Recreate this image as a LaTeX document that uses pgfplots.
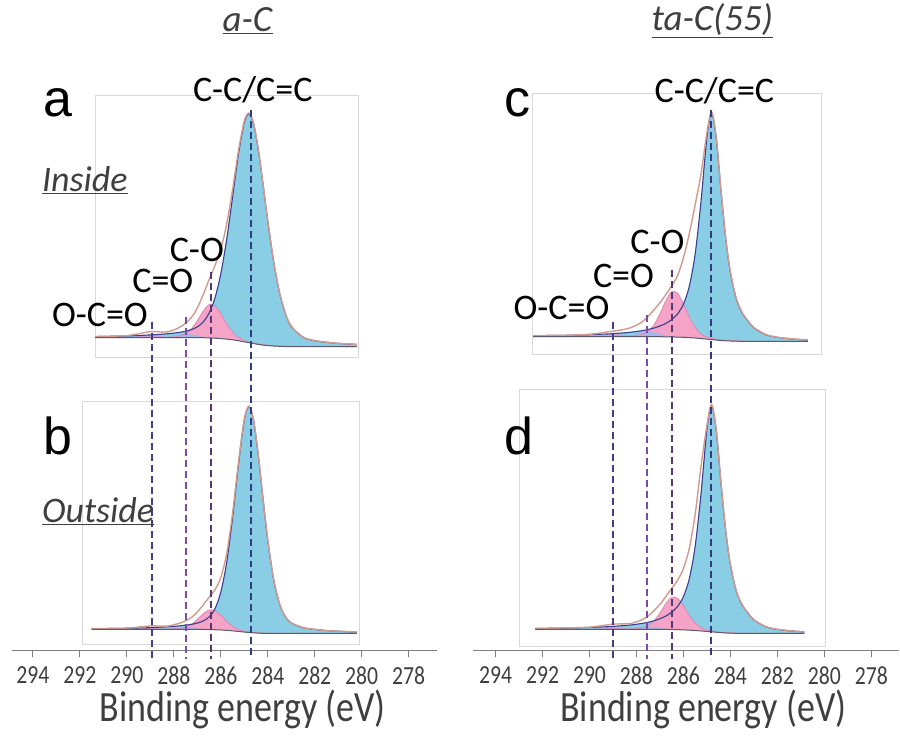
\documentclass[border=0pt]{standalone}
\usepackage{graphicx}
\usepackage{pgfplots}
\pgfplotsset{compat=1.18}
\usepackage{pgfplotstable}
\usepgfplotslibrary{fillbetween}
\usepackage{fontspec}
\setmainfont{Carlito}
\newfontfamily\arialf{Liberation Sans}

\definecolor{ccfill}{HTML}{8ACEE6}
\definecolor{ccline}{HTML}{3B3F8C}
\definecolor{cofill}{HTML}{F5A3C7}
\definecolor{coline}{HTML}{E088B0}
\definecolor{ceofill}{HTML}{A9B4E8}
\definecolor{ocofill}{HTML}{C8A2D8}
\definecolor{envline}{HTML}{D09A8E}
\definecolor{bgline}{HTML}{5A5A6E}
\definecolor{framegray}{HTML}{D9D9D9}
\definecolor{axisgray}{HTML}{7F7F7F}
\definecolor{txtgray}{HTML}{3F3F3F}
\definecolor{dA}{RGB}{70,60,140}
\definecolor{dB}{RGB}{125,75,165}
\definecolor{dC}{RGB}{85,55,115}
\definecolor{dD}{RGB}{50,60,130}

\newcommand{\tl}[1]{\scalebox{1}[1.2]{#1}}
\newcommand{\tickfont}{\fontsize{21.7}{26}\selectfont}
\newcommand{\labfont}{\fontsize{36}{43}\selectfont}
\newcommand{\titfont}{\fontsize{37}{44}\selectfont}
\newcommand{\letfont}{\arialf\fontsize{52}{62}\selectfont}

% panel a: a-C inside
\pgfplotstableread{
E bg cc co ceo oco env
291.35 20 21.1 20.1 20 20 21.2
290.5 20 21.5 20.1 20 20 21.6
290.0 20 21.8 20.1 20 20.2 22.1
289.5 20 22.2 20.2 20 21.5 23.9
289.25 20 22.5 20.2 20 22.5 25.2
289.0 20 22.8 20.3 20 23.0 26.0
288.75 20 23.1 20.3 20.1 22.5 26.0
288.5 20 23.5 20.4 20.3 21.5 25.6
288.25 20 24.0 20.5 20.8 20.6 26.0
288.0 20 24.6 20.8 22.0 20.2 27.7
287.75 20 25.4 21.7 23.4 20 30.5
287.5 20 26.5 24.0 24.0 20 34.5
287.25 20 28.1 28.9 23.4 20 40.4
287.0 20 30.8 37.0 22.0 20 49.8
286.75 20 35.7 46.6 20.8 20 63.1
286.5 19.8 44.5 53.1 20.1 19.8 78.0
286.25 19.5 59.7 52.0 19.6 19.5 92.2
286.0 19.1 84.0 43.9 19.1 19.1 108.8
285.75 18.6 118.4 33.8 18.6 18.6 133.6
285.5 17.9 160.5 25.6 17.9 17.9 168.2
285.25 17.0 203.5 20.4 17.0 17.0 206.9
285.0 15.9 235.5 17.4 15.9 15.9 237.0
284.8 15.0 244.0 15.8 15.0 15.0 244.8
284.6 14.1 233.7 14.7 14.1 14.1 234.3
284.4 13.3 207.7 13.7 13.3 13.3 208.1
284.2 12.6 173.2 12.9 12.6 12.6 173.5
284.0 12.1 136.9 12.4 12.1 12.1 137.2
283.75 11.7 96.3 11.9 11.7 11.7 96.5
283.5 11.4 65.2 11.6 11.4 11.4 65.4
283.25 11.2 44.2 11.4 11.2 11.2 44.4
283.0 11.0 31.4 11.2 11.0 11.0 31.6
282.5 11.0 20.5 11.1 11.0 11.0 20.6
282.0 11.0 17.0 11.1 11.0 11.0 17.1
281.5 11.0 15.4 11.1 11.0 11.0 15.5
281.0 11.0 14.3 11.1 11.0 11.0 14.4
280.2 11.0 13.3 11.0 11.0 11.0 13.3
}\panelA

% panel b: a-C outside
\pgfplotstableread{
E bg cc co ceo oco env
291.5 15 15.7 15.1 15 15 15.8
290.5 15 16.0 15.1 15 15 16.1
290.0 15 16.2 15.1 15 15.1 16.3
289.5 15 16.5 15.1 15 15.8 17.4
289.25 15 16.6 15.1 15 16.3 18.0
289.0 15 16.8 15.2 15 16.5 18.5
288.75 15 17.1 15.2 15 16.3 18.5
288.5 15 17.4 15.2 15.1 15.8 18.3
288.25 15 17.7 15.3 15.4 15.3 18.4
288.0 15 18.1 15.5 16.0 15.1 19.7
287.75 15 18.6 16.0 16.7 15 21.3
287.5 15 19.3 17.3 17.0 15 23.6
287.25 15 20.1 20.2 16.7 15 27.0
287.0 15 21.4 25.0 16.0 15 32.4
286.75 15 23.5 30.7 15.4 15 39.6
286.5 14.9 27.4 34.5 15.0 14.9 47.1
286.25 14.7 35.6 33.8 14.7 14.7 54.7
286.0 14.5 52.4 29.1 14.5 14.5 67.0
285.75 14.1 82.1 23.0 14.1 14.1 91.0
285.5 13.6 126.6 18.1 13.6 13.6 131.1
285.25 13.0 179.8 15.0 13.0 13.0 181.8
285.0 12.4 224.6 13.3 12.4 12.4 225.5
284.8 12.0 238.0 12.5 12.0 12.0 238.5
284.6 11.6 223.8 11.9 11.6 11.6 224.1
284.4 11.3 188.6 11.6 11.3 11.3 188.9
284.2 11.1 145.3 11.3 11.1 11.1 145.5
284.0 11.0 104.4 11.2 11.0 11.0 104.6
283.75 11 65.1 11.1 11 11 65.2
283.5 11 40.7 11.1 11 11 40.8
283.25 11 27.8 11.1 11 11 27.9
283.0 11 21.5 11.1 11 11 21.6
282.5 11 16.8 11.1 11 11 16.9
282.0 11 15.0 11.1 11 11 15.1
281.5 11 13.9 11.0 11 11 13.9
281.0 11 13.2 11.0 11 11 13.2
280.2 11 12.5 11.0 11 11 12.5
}\panelB

% panel c: ta-C(55) inside
\pgfplotstableread{
E bg cc co ceo oco env
292.4 18 19.0 18.1 18 18 19.1
291.0 18 19.4 18.1 18 18 19.5
290.5 18 19.7 18.2 18 18 19.8
290.0 18 20.0 18.2 18 18.2 20.4
289.5 18 20.5 18.2 18 19.5 21.8
289.25 18 20.7 18.3 18 20.5 22.8
289.0 18 21.1 18.3 18 21.0 23.5
288.75 18 21.5 18.4 18.1 20.5 24.3
288.5 18 21.9 18.5 18.4 19.5 25.4
288.25 18 22.5 18.7 19.3 18.6 27.0
288.0 18 23.2 19.1 21.0 18.2 29.5
287.75 18 24.1 20.3 23.0 18 33.0
287.5 18 25.2 23.4 24.0 18 38.5
287.25 18 26.7 30.0 23.0 18 45.0
287.0 18 28.7 41.0 21.0 18 52.0
286.75 17.9 31.3 53.9 19.2 17.9 60.0
286.5 17.8 35.1 62.9 18.2 17.8 69.0
286.25 17.6 40.8 61.5 17.7 17.6 79.0
286.0 17.4 50.6 50.9 17.4 17.4 97.0
285.75 17.1 68.4 37.6 17.1 17.1 121.0
285.5 16.7 100.8 27.1 16.7 16.7 150.0
285.25 16.2 153.5 20.8 16.2 16.2 181.0
285.0 15.6 217.4 17.6 15.6 15.6 222.0
284.8 15.1 242.1 16.2 15.1 15.1 243.0
284.6 14.6 216.4 15.4 14.6 14.6 217.2
284.4 14.2 164.4 14.8 14.2 14.2 165.0
284.2 13.9 116.7 14.4 13.9 13.9 117.2
284.0 13.7 82.4 14.1 13.7 13.7 82.8
283.75 13.5 56.2 13.8 13.5 13.5 56.5
283.5 13.3 41.8 13.6 13.3 13.3 42.1
283.25 13.3 33.8 13.5 13.3 13.3 34.0
283.0 13.3 26.9 13.5 13.3 13.3 27.1
282.5 13.3 20.1 13.5 13.3 13.3 20.3
282.0 13.3 17.4 13.4 13.3 13.3 17.5
281.5 13.3 16.0 13.4 13.3 13.3 16.1
281.0 13.3 15.1 13.4 13.3 13.3 15.2
280.7 13.3 14.7 13.4 13.3 13.3 14.8
}\panelC

% panel d: ta-C(55) outside
\pgfplotstableread{
E bg cc co ceo oco env
292.3 17 18.0 17.1 17 17 18.1
291.0 17 18.4 17.1 17 17 18.5
290.5 17 18.7 17.1 17 17 18.8
290.0 17 19.0 17.1 17 17.1 19.3
289.5 17 19.5 17.2 17 18.0 20.7
289.25 17 19.7 17.2 17 18.7 21.6
289.0 17 20.1 17.3 17 19.0 22.3
288.75 17 20.5 17.3 17.0 18.7 22.5
288.5 17 20.9 17.4 17.2 18.0 22.6
288.25 17 21.5 17.5 17.6 17.4 23.0
288.0 17 22.2 17.8 18.5 17.1 24.6
287.75 17 23.1 18.7 19.5 17 26.8
287.5 17 24.2 20.9 20.0 17 30.5
287.25 17 25.7 25.6 19.5 17 36.0
287.0 17 27.7 33.5 18.5 17 42.0
286.75 17 30.4 42.8 17.6 17 50.0
286.5 16.9 34.2 49.2 17.1 16.9 58.0
286.25 16.8 40.0 48.3 16.8 16.8 66.0
286.0 16.6 49.8 40.7 16.6 16.6 78.0
285.75 16.3 67.6 31.0 16.3 16.3 98.0
285.5 15.9 100.0 23.3 15.9 15.9 132.0
285.25 15.5 152.8 18.8 15.5 15.5 180.0
285.0 15.0 216.8 16.4 15.0 15.0 221.0
284.8 14.6 241.6 15.4 14.6 14.6 242.2
284.6 14.2 216.0 14.8 14.2 14.2 216.6
284.4 13.8 164.0 14.2 13.8 13.8 164.4
284.2 13.5 116.3 13.8 13.5 13.5 116.6
284.0 13.3 82.0 13.6 13.3 13.3 82.3
283.75 13.1 55.8 13.3 13.1 13.1 56.0
283.5 13.0 41.5 13.2 13.0 13.0 41.7
283.25 13.0 33.5 13.2 13.0 13.0 33.7
283.0 13.0 26.6 13.1 13.0 13.0 26.7
282.5 13.0 19.8 13.1 13.0 13.0 19.9
282.0 13.0 17.1 13.1 13.0 13.0 17.2
281.5 13.0 15.7 13.1 13.0 13.0 15.8
281.0 13.0 14.8 13.1 13.0 13.0 14.9
280.85 13.0 14.6 13.1 13.0 13.0 14.7
}\panelD

\newcommand{\spectrum}[1]{%
  \addplot[name path=bg, draw=none] table[x=E,y=bg]{#1};
  \addplot[name path=cc, draw=none, smooth] table[x=E,y=cc]{#1};
  \addplot[name path=co, draw=none, smooth] table[x=E,y=co]{#1};
  \addplot[name path=ceo, draw=none, smooth] table[x=E,y=ceo]{#1};
  \addplot[name path=oco, draw=none, smooth] table[x=E,y=oco]{#1};
  \addplot[fill=ccfill, draw=none] fill between[of=cc and bg];
  \addplot[fill=cofill, draw=none] fill between[of=co and bg];
  \addplot[fill=ceofill, draw=none] fill between[of=ceo and bg];
  \addplot[fill=ocofill, draw=none] fill between[of=oco and bg];
  \addplot[coline, line width=0.8pt, smooth] table[x=E,y=co]{#1};
  \addplot[ccline, line width=1.1pt, smooth] table[x=E,y=cc]{#1};
  \addplot[envline, line width=1.4pt, smooth] table[x=E,y=env]{#1};
  \addplot[bgline, line width=1pt] table[x=E,y=bg]{#1};
}

\pgfplotsset{
  panel/.style={anchor=south west, scale only axis, x dir=reverse,
    xtick=\empty, ytick=\empty, axis line style={framegray, line width=0.8pt}},
  column/.style={anchor=south west, scale only axis, x dir=reverse,
    ymin=86, ymax=737,
    axis x line*=bottom, axis y line=none, ytick=\empty,
    x axis line style={-, axisgray, line width=1.6pt},
    xtick={278,280,...,294},
    xticklabels={\tl{278},\tl{280},\tl{282},\tl{284},\tl{286},\tl{288},\tl{290},\tl{292},\tl{294}},
    tick align=outside, major tick length=7pt,
    xtick style={axisgray, line width=1pt},
    xticklabel style={font=\tickfont, text=txtgray, anchor=north, inner sep=0pt, yshift=-9pt},
    clip=false},
  dsh/.style={line width=2pt, dash pattern=on 7pt off 4pt}
}

\begin{document}
\begin{tikzpicture}
\path (0pt,0pt) rectangle (900pt,737pt);

% panel a
\begin{axis}[panel, at={(95pt,379pt)}, width=264pt, height=263pt,
  xmin=280.128, xmax=291.362, ymin=0, ymax=263]
\spectrum{\panelA}
\end{axis}
% panel b
\begin{axis}[panel, at={(82pt,92pt)}, width=278pt, height=243pt,
  xmin=280.085, xmax=291.915, ymin=0, ymax=243]
\spectrum{\panelB}
\end{axis}
% panel c
\begin{axis}[panel, at={(533pt,382pt)}, width=289pt, height=262pt,
  xmin=280.128, xmax=292.426, ymin=0, ymax=262]
\spectrum{\panelC}
\end{axis}
% panel d
\begin{axis}[panel, at={(520pt,90pt)}, width=306pt, height=257pt,
  xmin=279.957, xmax=292.979, ymin=0, ymax=257]
\spectrum{\panelD}
\end{axis}

% left column axis
\begin{axis}[column, at={(12pt,86pt)}, width=425pt, height=651pt,
  xmin=276.81, xmax=294.894]
\addplot[dsh, dA] coordinates {(288.94,415) (288.94,77)};
\addplot[dsh, dB] coordinates {(287.49,420) (287.49,77)};
\addplot[dsh, dC] coordinates {(286.43,465) (286.43,77)};
\addplot[dsh, dD] coordinates {(284.72,627) (284.72,77)};
\end{axis}
% right column axis
\begin{axis}[column, at={(473pt,86pt)}, width=427pt, height=651pt,
  xmin=276.81, xmax=294.979]
\addplot[dsh, dA] coordinates {(289.02,415) (289.02,77)};
\addplot[dsh, dB] coordinates {(287.57,422) (287.57,77)};
\addplot[dsh, dC] coordinates {(286.47,467) (286.47,77)};
\addplot[dsh, dD] coordinates {(284.81,627) (284.81,77)};
\end{axis}

% texts
\node[anchor=base, inner sep=0pt, font=\titfont, text=txtgray] at (248pt,705pt) {\underline{\textit{a-C}}};
\node[anchor=base, inner sep=0pt, font=\titfont, text=txtgray] at (713pt,706pt) {\underline{\textit{ta-C(55)}}};

\node[anchor=base west, inner sep=0pt, font=\letfont] at (43pt,620pt) {a};
\node[anchor=base west, inner sep=0pt, font=\letfont] at (43pt,282pt) {b};
\node[anchor=base west, inner sep=0pt, font=\letfont] at (505pt,620pt) {c};
\node[anchor=base west, inner sep=0pt, font=\letfont] at (505pt,282pt) {d};

\node[anchor=base west, inner sep=0pt, font=\labfont, text=txtgray] at (42pt,545pt) {\underline{\textit{Inside}}};
\node[anchor=base west, inner sep=0pt, font=\labfont, text=txtgray] at (42pt,214pt) {\underline{\textit{Outside}}};

\node[anchor=base, inner sep=0pt, font=\labfont] at (253pt,635pt) {C-C/C=C};
\node[anchor=base, inner sep=0pt, font=\labfont] at (197pt,475pt) {C-O};
\node[anchor=base, inner sep=0pt, font=\labfont] at (163pt,444pt) {C=O};
\node[anchor=base, inner sep=0pt, font=\labfont] at (100pt,410pt) {O-C=O};

\node[anchor=base, inner sep=0pt, font=\labfont] at (715pt,634pt) {C-C/C=C};
\node[anchor=base, inner sep=0pt, font=\labfont] at (658pt,483pt) {C-O};
\node[anchor=base, inner sep=0pt, font=\labfont] at (624pt,449pt) {C=O};
\node[anchor=base, inner sep=0pt, font=\labfont] at (562pt,417pt) {O-C=O};

\node[anchor=base, inner sep=0pt, font=\labfont, text=txtgray] at (243pt,15pt) {\tl{Binding energy (eV)}};
\node[anchor=base, inner sep=0pt, font=\labfont, text=txtgray] at (704pt,15pt) {\tl{Binding energy (eV)}};
\end{tikzpicture}
\end{document}
